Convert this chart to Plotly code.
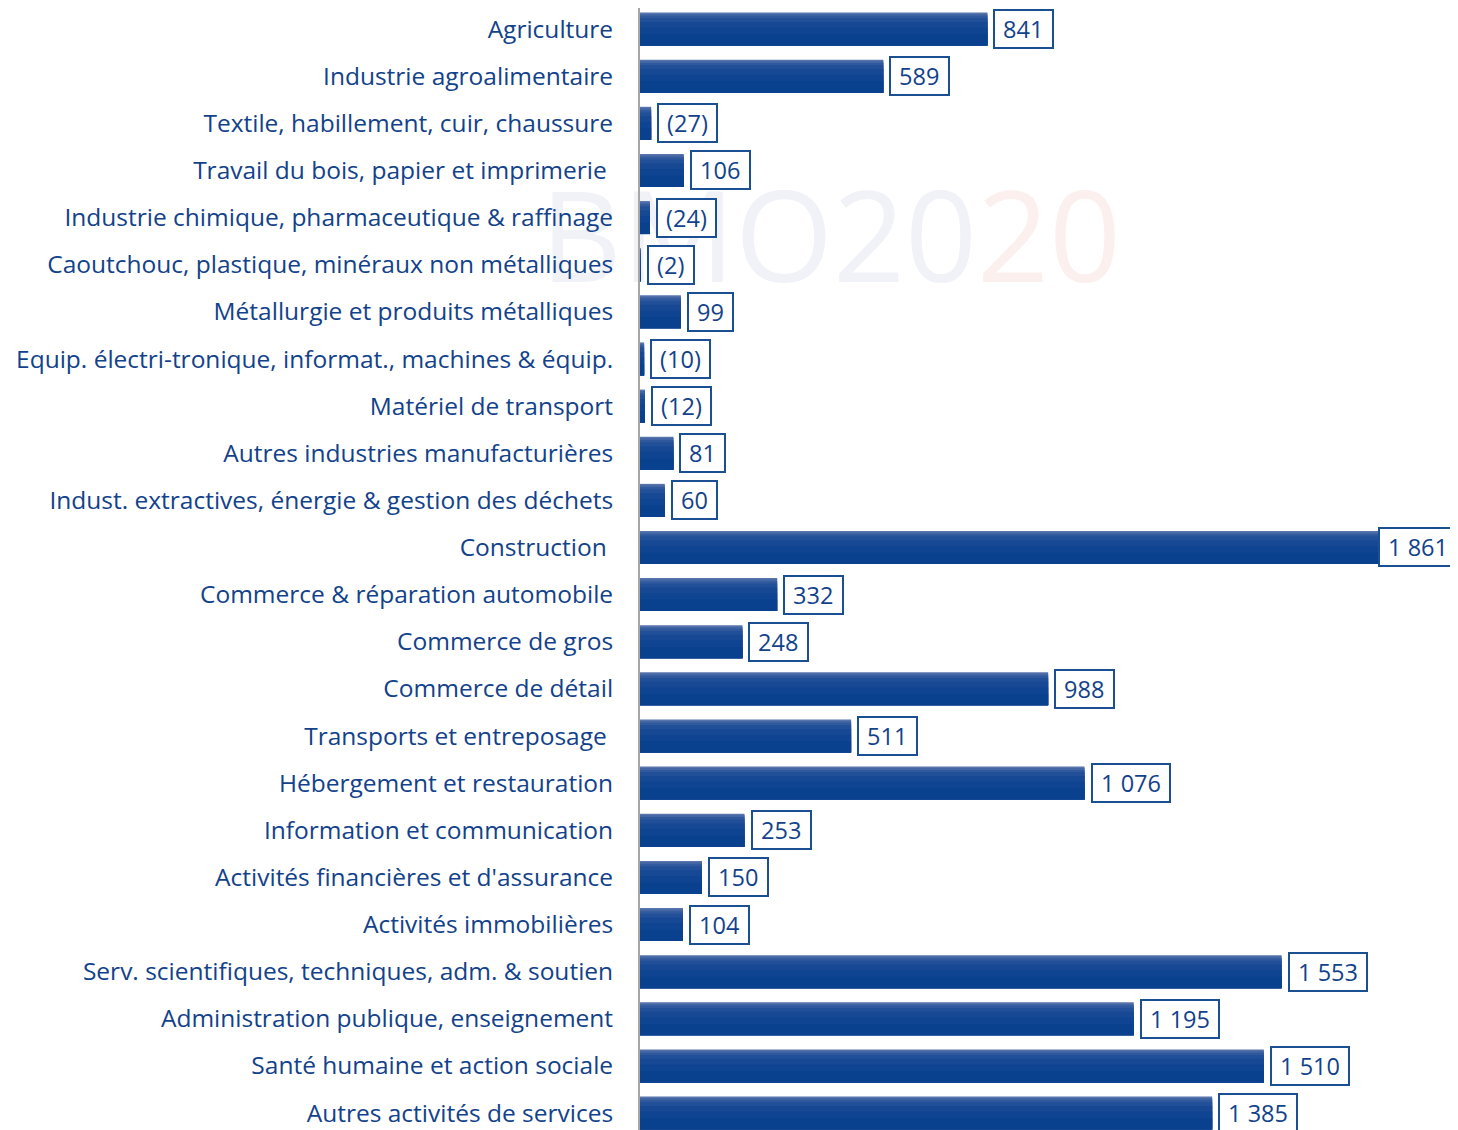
"""Solde net d'emplois par secteur — horizontal bar chart."""

import base64

import plotly.graph_objects as go

# ---------------------------------------------------------------------------
# Data
# ---------------------------------------------------------------------------

SECTEURS = [
    "Agriculture",
    "Industrie agroalimentaire",
    "Textile, habillement, cuir, chaussure",
    "Travail du bois, papier et imprimerie\u00a0",
    "Industrie chimique, pharmaceutique & raffinage",
    "Caoutchouc, plastique, minéraux non métalliques",
    "Métallurgie et produits métalliques",
    "Equip. électri-tronique, informat., machines & équip.",
    "Matériel de transport",
    "Autres industries manufacturières",
    "Indust. extractives, énergie & gestion des déchets",
    "Construction\u00a0",
    "Commerce & réparation automobile",
    "Commerce de gros",
    "Commerce de détail",
    "Transports et entreposage\u00a0",
    "Hébergement et restauration",
    "Information et communication",
    "Activités financières et d'assurance",
    "Activités immobilières",
    "Serv. scientifiques, techniques, adm. & soutien",
    "Administration publique, enseignement",
    "Santé humaine et action sociale",
    "Autres activités de services",
]

VALEURS = [841, 589, -27, 106, -24, -2, 99, -10, -12, 81, 60, 1861, 332, 248,
           988, 511, 1076, 253, 150, 104, 1553, 1195, 1510, 1385]

X_MAX = 1980

# ---------------------------------------------------------------------------
# Palette
# ---------------------------------------------------------------------------

TEXT_COLOR = "#12428a"
BOX_COLOR = "#1b4f93"
AXIS_COLOR = "#a6a6a6"
FONT = "'Open Sans', sans-serif"
BAR_W = 0.7
# vertical gradient: (distance from top of bar, colour)
GRADIENT = [
    (0.00, "#5975ad"),
    (0.03, "#4366a4"),
    (0.07, "#2f589d"),
    (0.12, "#214f98"),
    (0.20, "#164894"),
    (0.32, "#0e4491"),
    (0.46, "#0a418e"),
]


def fmt(v: int) -> str:
    """French style number, negatives in parentheses."""
    s = f"{abs(v):,}".replace(",", "\u00a0")
    s = f"({s})" if v < 0 else s
    return "\u00a0" + s + "\u00a0"


def watermark() -> str:
    svg = (
        '<svg xmlns="http://www.w3.org/2000/svg" width="620" height="140">'
        '<text x="0" y="125" font-family="Open Sans, sans-serif" font-size="126">'
        '<tspan fill="#f0f2f8">BMO20</tspan>'
        '<tspan fill="#fcf0ef">20</tspan></text></svg>'
    )
    return "data:image/svg+xml;base64," + base64.b64encode(svg.encode()).decode()


ypos = list(range(len(SECTEURS)))
abs_vals = [abs(v) for v in VALEURS]

fig = go.Figure()
for top, color in GRADIENT:
    fig.add_trace(go.Bar(
        x=abs_vals,
        y=ypos,
        orientation="h",
        width=BAR_W - top,
        offset=-BAR_W / 2 + top,
        marker=dict(color=color, line=dict(width=0)),
        hoverinfo="skip",
    ))

# value boxes
annotations = []
for i, v in enumerate(VALEURS):
    too_wide = abs(v) > X_MAX * 0.92
    annotations.append(dict(
        x=1 if too_wide else abs(v),
        xref="paper" if too_wide else "x",
        y=i, yref="y",
        text=fmt(v),
        showarrow=False,
        xanchor="right" if too_wide else "left",
        xshift=0 if too_wide else 6,
        font=dict(family=FONT, size=23.5, color=TEXT_COLOR),
        bgcolor="white",
        bordercolor=BOX_COLOR,
        borderwidth=2,
        borderpad=2,
    ))

fig.update_layout(
    width=1450,
    height=1122,
    paper_bgcolor="white",
    plot_bgcolor="rgba(0,0,0,0)",
    margin=dict(l=632, r=0, t=0, b=0),
    showlegend=False,
    barmode="overlay",
    font=dict(family=FONT, color=TEXT_COLOR),
    xaxis=dict(
        range=[0, X_MAX],
        visible=False,
        showgrid=False,
        zeroline=False,
    ),
    yaxis=dict(
        range=[23.36, -0.446],
        tickmode="array",
        tickvals=ypos,
        ticktext=SECTEURS,
        tickfont=dict(family=FONT, size=24.5, color=TEXT_COLOR),
        ticks="",
        ticklabelstandoff=20,
        showgrid=False,
        zeroline=False,
        showline=True,
        linecolor=AXIS_COLOR,
        linewidth=2,
    ),
    annotations=annotations,
    images=[dict(
        source=watermark(),
        xref="paper", yref="paper",
        x=-0.122, y=0.867,
        sizex=0.758, sizey=0.1248,
        xanchor="left", yanchor="top",
        sizing="stretch",
        layer="below",
    )],
)

fig.write_html("out.html")
